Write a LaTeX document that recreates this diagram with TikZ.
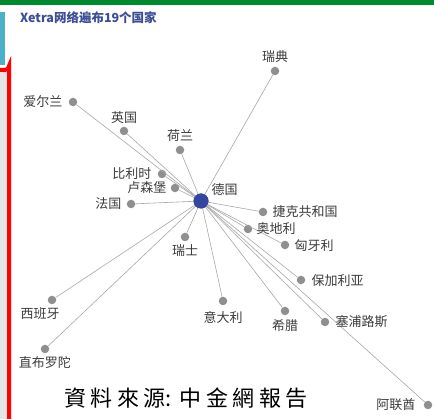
\documentclass[tikz,border=0pt]{standalone}
\usepackage{fontspec}
\newfontfamily\cjk{Noto Sans CJK SC}
\newfontfamily\cjktc{Noto Sans CJK TC}
\usetikzlibrary{positioning}
\definecolor{dotgrey}{HTML}{8F8F8F}
\definecolor{linegrey}{HTML}{A8A8A8}
\definecolor{txtgrey}{HTML}{3C3C3C}
\definecolor{titleblue}{HTML}{3B4E96}
\definecolor{bargreen}{HTML}{008C2E}
\definecolor{barteal}{HTML}{4BB0C8}

\begin{document}
\begin{tikzpicture}[x=1pt,y=-1pt,
    country/.style={circle,fill=dotgrey,inner sep=0pt,minimum size=8.5pt},
    hub/.style={circle,fill=titleblue!90!blue,inner sep=0pt,minimum size=15pt},
    lbl/.style={inner sep=1pt,font=\cjk\fontsize{13}{13}\selectfont,text=txtgrey},
    link/.style={draw=linegrey,line width=0.6pt}
  ]
  \useasboundingbox[fill=white] (0,0) rectangle (434,419);
  % frame bits on the edges
  \fill[bargreen] (0,0) rectangle (434,5);
  \fill[barteal] (0,12) rectangle (5,65);
  \fill[gray!20] (0,72) rectangle (7,419);
  \draw[red,line width=4pt] (0,70) -- (5,70) arc[start angle=90,end angle=0,radius=4] -- (9,419);

  \node[anchor=west,inner sep=0pt,text=titleblue,font=\cjk\bfseries\fontsize{12.5}{12.5}\selectfont]
    (title) at (20,18) {Xetra网络遍布19个国家};

  % hub
  \node[hub] (de) at (201,201) {};
  \node[lbl,above right=-1pt and 4pt of de] (delbl) {德国};

  % countries
  \node[country] (se) at (275,71) {};
  \node[country] (ie) at (73,102) {};
  \node[country] (gb) at (124,131) {};
  \node[country] (nl) at (180,150) {};
  \node[country] (be) at (162,174) {};
  \node[country] (lu) at (175,188) {};
  \node[country] (fr) at (131,204) {};
  \node[country] (cz) at (263,212) {};
  \node[country] (at) at (248,229) {};
  \node[country] (hu) at (285,245) {};
  \node[country] (ch) at (185,237) {};
  \node[country] (bg) at (301,280) {};
  \node[country] (es) at (52,300) {};
  \node[country] (it) at (223,301) {};
  \node[country] (gr) at (285,311) {};
  \node[country] (cy) at (325,322) {};
  \node[country] (gi) at (45,349) {};
  \node[country] (ae) at (428,405) {};

  \foreach \c in {se,ie,gb,nl,be,lu,fr,cz,at,hu,ch,bg,es,it,gr,cy,gi,ae}
    \draw[link] (de.center) -- (\c);
  \node[hub] at (de) {};

  % labels
  \node[lbl,above=3pt of se] (selbl) {瑞典};
  \node[lbl,left=5pt of ie] (ielbl) {爱尔兰};
  \node[lbl,above=2pt of gb] (gblbl) {英国};
  \node[lbl,above=3pt of nl] (nllbl) {荷兰};
  \node[lbl,left=5pt of be] (belbl) {比利时};
  \node[lbl,left=3pt of lu] (lulbl) {卢森堡};
  \node[lbl,left=4pt of fr] (frlbl) {法国};
  \node[lbl,right=4pt of cz] (czlbl) {捷克共和国};
  \node[lbl,right=3pt of at] (atlbl) {奥地利};
  \node[lbl,right=4pt of hu,yshift=-1pt] (hulbl) {匈牙利};
  \node[lbl,below=2pt of ch] (chlbl) {瑞士};
  \node[lbl,right=5pt of bg,yshift=-1pt] (bglbl) {保加利亚};
  \node[lbl,below=2pt of es,xshift=-12pt] (eslbl) {西班牙};
  \node[lbl,below=5pt of it] (itlbl) {意大利};
  \node[lbl,below=3pt of gr] (grlbl) {希腊};
  \node[lbl,right=5pt of cy] (cylbl) {塞浦路斯};
  \node[lbl,below=2pt of gi] (gilbl) {直布罗陀};
  \node[lbl,left=7pt of ae] (aelbl) {阿联酋};

  \node[inner sep=0pt,font=\cjktc\fontsize{22}{22}\selectfont] (src) at (186,398)
    {資\kern4.5pt料\kern4.5pt來\kern4.5pt源:\kern8pt中\kern4.5pt金\kern4.5pt網\kern4.5pt報\kern4.5pt告};
\end{tikzpicture}
\end{document}
